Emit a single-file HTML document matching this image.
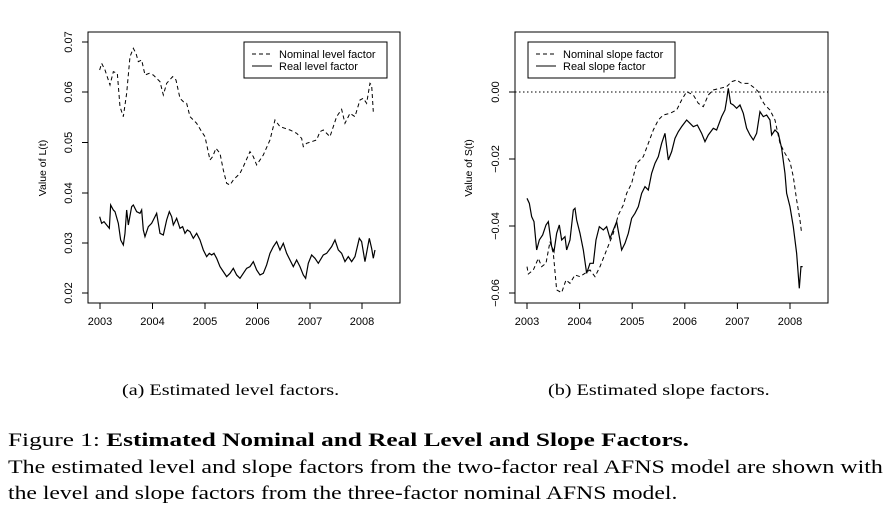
<!DOCTYPE html>
<html><head><meta charset="utf-8"><style>
body{margin:0;background:#fff;width:890px;height:527px;overflow:hidden;position:relative;font-family:"Liberation Serif",serif;}
svg{position:absolute;left:0;top:0}
.t{font-family:"Liberation Sans",sans-serif;font-size:11px;fill:#000}
.cap{position:absolute;font-size:16px;white-space:nowrap;transform-origin:0 0;transform:scaleX(1.26)}
.fig{position:absolute;left:8px;font-size:19px;white-space:nowrap;line-height:26px;transform-origin:0 0}
</style></head><body>
<svg width="890" height="527" viewBox="0 0 890 527">
<!-- Left plot -->
<rect x="88" y="32" width="312" height="271" fill="none" stroke="#000" stroke-width="1"/>
<g stroke="#000" stroke-width="1">
<line x1="100" y1="303" x2="362" y2="303"/>
<line x1="100" y1="303" x2="100" y2="309"/><line x1="152.5" y1="303" x2="152.5" y2="309"/><line x1="205" y1="303" x2="205" y2="309"/><line x1="257.5" y1="303" x2="257.5" y2="309"/><line x1="310" y1="303" x2="310" y2="309"/><line x1="362" y1="303" x2="362" y2="309"/>
<line x1="88" y1="42" x2="88" y2="293"/>
<line x1="82" y1="42" x2="88" y2="42"/><line x1="82" y1="92" x2="88" y2="92"/><line x1="82" y1="142.5" x2="88" y2="142.5"/><line x1="82" y1="193" x2="88" y2="193"/><line x1="82" y1="243" x2="88" y2="243"/><line x1="82" y1="293" x2="88" y2="293"/>
</g>
<g class="t" text-anchor="middle">
<text x="100" y="325">2003</text><text x="152.5" y="325">2004</text><text x="205" y="325">2005</text><text x="257.5" y="325">2006</text><text x="310" y="325">2007</text><text x="362" y="325">2008</text>
<text transform="translate(72,42) rotate(-90)">0.07</text><text transform="translate(72,92) rotate(-90)">0.06</text><text transform="translate(72,142.5) rotate(-90)">0.05</text><text transform="translate(72,193) rotate(-90)">0.04</text><text transform="translate(72,243) rotate(-90)">0.03</text><text transform="translate(72,293) rotate(-90)">0.02</text>
<text transform="translate(46,168) rotate(-90)" style="font-size:10.5px">Value of L(t)</text>
</g>
<rect x="244" y="42" width="143" height="36" fill="#fff" stroke="#000"/>
<line x1="252" y1="54" x2="272" y2="54" stroke="#000" stroke-dasharray="4,3"/>
<line x1="252" y1="66" x2="272" y2="66" stroke="#000"/>
<text class="t" x="279" y="58">Nominal level factor</text>
<text class="t" x="279" y="70">Real level factor</text>
<g transform="translate(30,20) scale(0.3333)" fill="none" stroke="#000">
<polyline vector-effect="non-scaling-stroke" stroke-width="1" stroke-dasharray="4,3" points="209,150 215,130 225,150 240,195 250,155 262,160 270,260 280,290 290,220 300,110 310,85 318,100 325,125 335,120 345,165 358,160 370,165 390,185 400,225 410,190 428,170 438,180 450,235 460,245 470,250 480,290 500,310 515,335 525,350 540,420 548,410 558,385 570,400 580,450 590,490 600,495 610,480 620,470 630,460 640,440 660,395 670,410 680,435 700,405 720,360 735,300 750,320 765,325 780,330 800,340 815,355 820,380 830,370 845,365 860,360 870,335 880,330 900,350 910,320 920,290 935,268 945,310 960,280 975,290 990,240 1000,235 1010,250 1020,190 1025,195 1030,275"/>
<polyline vector-effect="non-scaling-stroke" stroke-width="1.2" points="209,590 215,610 222,605 230,615 238,625 242,555 250,570 255,575 265,610 272,660 280,675 285,640 290,570 295,615 305,560 310,555 320,575 330,580 335,570 340,630 345,650 355,620 365,610 370,600 380,580 390,640 400,645 410,600 418,575 425,590 430,615 440,595 450,625 458,620 465,640 472,630 480,635 490,655 500,640 510,660 520,690 530,710 538,700 545,705 552,700 560,715 570,740 580,755 590,770 600,760 610,745 620,765 630,775 640,760 650,745 660,740 670,725 680,750 690,765 700,760 710,735 720,700 730,680 740,665 750,690 760,670 770,700 780,720 790,740 800,720 810,740 820,765 827,775 835,730 845,705 855,715 865,730 880,705 890,700 905,680 915,660 925,690 935,700 945,725 955,710 965,725 975,710 988,655 995,665 1005,725 1018,655 1025,685 1030,715 1035,690"/>
</g>

<!-- Right plot -->
<rect x="515" y="32" width="313" height="271" fill="none" stroke="#000"/>
<g stroke="#000" stroke-width="1">
<line x1="527" y1="303" x2="790" y2="303"/>
<line x1="527" y1="303" x2="527" y2="309"/><line x1="579.6" y1="303" x2="579.6" y2="309"/><line x1="632.2" y1="303" x2="632.2" y2="309"/><line x1="684.8" y1="303" x2="684.8" y2="309"/><line x1="737.4" y1="303" x2="737.4" y2="309"/><line x1="790" y1="303" x2="790" y2="309"/>
<line x1="515" y1="92" x2="515" y2="293"/>
<line x1="509" y1="92" x2="515" y2="92"/><line x1="509" y1="159" x2="515" y2="159"/><line x1="509" y1="226" x2="515" y2="226"/><line x1="509" y1="293" x2="515" y2="293"/>
</g>
<line x1="515" y1="92" x2="828" y2="92" stroke="#000" stroke-dasharray="1.5,2.5"/>
<g class="t" text-anchor="middle">
<text x="527" y="325">2003</text><text x="579.6" y="325">2004</text><text x="632.2" y="325">2005</text><text x="684.8" y="325">2006</text><text x="737.4" y="325">2007</text><text x="790" y="325">2008</text>
<text transform="translate(499,92) rotate(-90)">0.00</text><text transform="translate(499,159) rotate(-90)">−0.02</text><text transform="translate(499,226) rotate(-90)">−0.04</text><text transform="translate(499,293) rotate(-90)">−0.06</text>
<text transform="translate(472,168) rotate(-90)" style="font-size:10.5px">Value of S(t)</text>
</g>
<rect x="528" y="42" width="147" height="36" fill="#fff" stroke="#000"/>
<line x1="536" y1="54" x2="556" y2="54" stroke="#000" stroke-dasharray="4,3"/>
<line x1="536" y1="66" x2="556" y2="66" stroke="#000"/>
<text class="t" x="563" y="58">Nominal slope factor</text>
<text class="t" x="563" y="70">Real slope factor</text>
<g transform="translate(460,20) scale(0.3333)" fill="none" stroke="#000">
<polyline vector-effect="non-scaling-stroke" stroke-width="1" stroke-dasharray="4,3" points="201,740 205,762 220,750 235,715 245,740 258,730 270,665 280,700 290,810 305,818 318,780 330,790 345,765 360,770 375,760 390,750 405,770 420,740 440,690 460,640 475,585 490,555 500,520 515,490 530,430 550,410 565,370 580,330 595,300 610,285 630,280 650,270 665,240 680,215 700,225 715,250 730,260 745,225 760,210 780,205 800,200 815,185 830,180 845,190 865,190 885,205 895,215 905,240 915,255 930,270 945,300 960,370 975,400 990,425 1000,470 1010,540 1020,600 1025,640"/>
<polyline vector-effect="non-scaling-stroke" stroke-width="1.2" points="201,535 208,550 215,590 222,605 230,690 238,660 248,645 258,615 265,605 275,680 282,695 290,640 298,615 305,660 315,650 320,690 330,660 340,570 345,565 350,600 360,640 370,690 380,760 390,730 400,730 408,660 418,620 430,630 440,620 450,655 460,630 470,605 478,650 485,690 495,670 505,640 515,595 525,580 535,560 545,520 555,500 565,510 575,460 585,430 595,410 605,370 615,340 625,420 635,395 645,355 655,335 665,320 680,300 690,310 700,320 712,315 725,340 735,365 745,345 760,325 770,330 785,290 795,270 800,240 805,205 812,250 820,255 830,265 840,255 850,280 860,325 870,345 880,360 890,340 900,275 910,290 920,285 930,300 935,345 945,330 955,340 965,385 975,460 980,520 990,560 1000,620 1010,700 1018,805 1023,740 1028,740"/>
</g>
</svg>
<div class="cap" style="left:122px;top:382px">(a) Estimated level factors.</div>
<div class="cap" style="left:548px;top:382px">(b) Estimated slope factors.</div>
<div class="fig" style="top:428px;transform:scaleX(1.33)">Figure 1: <b>Estimated Nominal and Real Level and Slope Factors.</b></div>
<div class="fig" style="top:455px;transform:scaleX(1.26)">The estimated level and slope factors from the two-factor real AFNS model are shown with</div>
<div class="fig" style="top:481px;transform:scaleX(1.245)">the level and slope factors from the three-factor nominal AFNS model.</div>
</body></html>
